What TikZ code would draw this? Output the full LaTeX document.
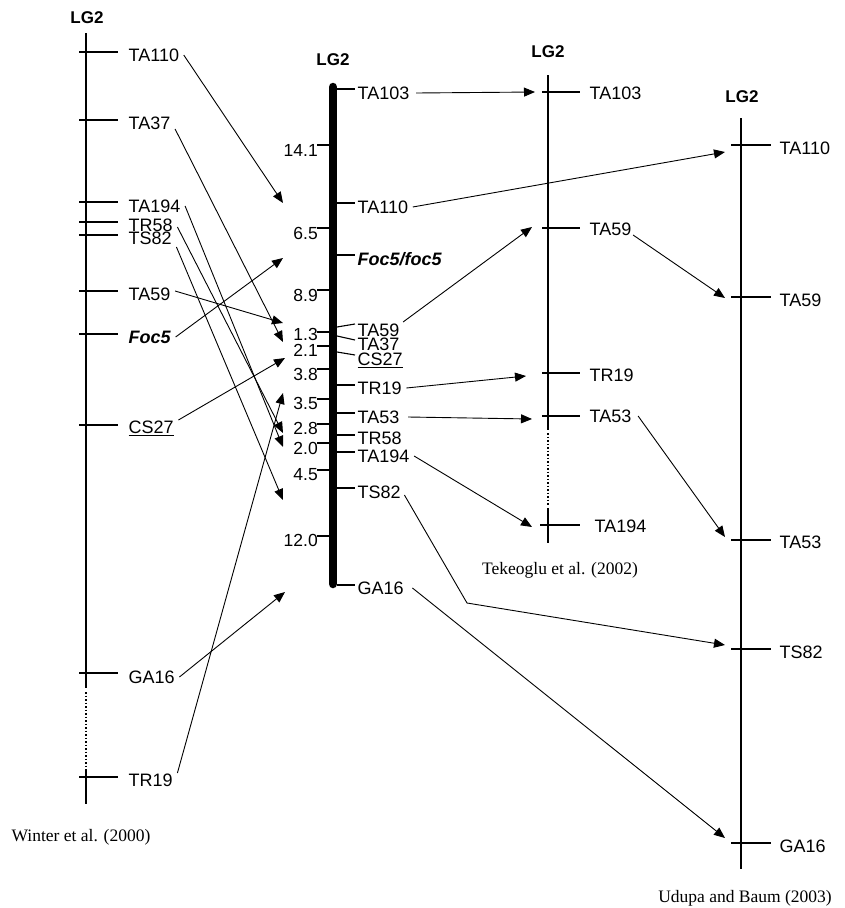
\documentclass[tikz,border=0pt]{standalone}
\usepackage{fontspec}
\setmainfont{Liberation Sans}
\newfontfamily\capfont{Liberation Serif}
\usetikzlibrary{arrows.meta}
\begin{document}
\begin{tikzpicture}[x=1pt,y=-1pt,
 mk/.style={anchor=west,inner sep=1.5pt,font=\fontsize{18}{20}\selectfont,text height=12.8pt,text depth=0pt},
 dist/.style={anchor=east,inner sep=0pt,font=\fontsize{17.5}{20}\selectfont,text height=12.5pt,text depth=0pt},
 lgtitle/.style={font=\bfseries\fontsize{17}{20}\selectfont,inner sep=0pt},
 captext/.style={font=\capfont\fontsize{17.5}{20}\selectfont,inner sep=0pt},
 mapline/.style={line width=2.6pt},
 dotline/.style={line width=2pt,dash pattern=on 1.5pt off 2pt},
 tickline/.style={line width=1.1pt},
 link/.style={line width=0.9pt,-{Triangle[length=11pt,width=9pt]}},
]
\useasboundingbox (0,0) rectangle (845,908);

% ---------- Winter et al. (2000) ----------
\node[lgtitle] (lgW) at (87,18) {LG2};
\draw[mapline] (86,33) -- (86,688);
\draw[dotline] (86,692) -- (86,767);
\draw[mapline] (86,769) -- (86,804);
\foreach \y in {52,120,202,222,235,291,334,425,673,777}
  \draw[tickline] (79,\y) -- (118,\y);
\node[mk] (wTA110) at (127,55) {TA110};
\node[mk] (wTA37) at (127,123) {TA37};
\node[mk] (wTA194) at (127,206) {TA194};
\node[mk] (wTR58) at (127,225) {TR58};
\node[mk] (wTS82) at (127,238) {TS82};
\node[mk] (wTA59) at (127,294) {TA59};
\node[mk] (wFoc) at (127,337) {\textbf{\textit{Foc5}}};
\node[mk] (wCS27) at (127,427) {\underline{CS27}};
\node[mk] (wGA16) at (127,677) {GA16};
\node[mk] (wTR19) at (127,780) {TR19};
\node[captext] (capW) at (81,837) {Winter et al. (2000)};

% ---------- central consensus map ----------
\node[lgtitle] (lgC) at (333,60) {LG2};
\draw[line width=8.5pt,line cap=round] (333,87) -- (333,584);
\foreach \y/\c/\t [count=\i] in {145/150/14.1,228/233/6.5,290/295/8.9,332/334/1.3,346/350/2.1,369/374/3.8,399/403/3.5,424/428/2.8,443/448/2.0,470/474/4.5,536/540/12.0}{
  \draw[tickline] (317,\y) -- (330,\y);
  \node[dist] (d\i) at (318,\c) {\t};
}
\foreach \y in {89,203,255,385,413,435,452,488,585}
  \draw[tickline] (337,\y) -- (355,\y);
\draw[tickline] (337,327) -- (355,324);
\draw[tickline] (337,336) -- (355,340);
\draw[tickline] (337,352) -- (355,355);
\node[mk] (cTA103) at (356,93) {TA103};
\node[mk] (cTA110) at (356,207) {TA110};
\node[mk] (cFoc) at (356,259) {\textbf{\textit{Foc5/foc5}}};
\node[mk] (cTA59) at (356,330) {TA59};
\node[mk] (cTA37) at (356,344) {TA37};
\node[mk] (cCS27) at (356,359) {\underline{CS27}};
\node[mk] (cTR19) at (356,388) {TR19};
\node[mk] (cTA53) at (356,417) {TA53};
\node[mk] (cTR58) at (356,438) {TR58};
\node[mk] (cTA194) at (356,456) {TA194};
\node[mk] (cTS82) at (356,492) {TS82};
\node[mk] (cGA16) at (356,588) {GA16};

% ---------- Tekeoglu et al. (2002) ----------
\node[lgtitle] (lgT) at (548,52) {LG2};
\draw[line width=2.5pt] (548,75) -- (548,430);
\draw[dotline] (548,433) -- (548,505);
\draw[line width=2.5pt] (548,508) -- (548,543);
\foreach \y in {92,228,373,416}
  \draw[tickline] (542,\y) -- (580,\y);
\draw[tickline] (540,525) -- (580,525);
\node[mk] (tTA103) at (588,93) {TA103};
\node[mk] (tTA59) at (588,229) {TA59};
\node[mk] (tTR19) at (588,375) {TR19};
\node[mk] (tTA53) at (588,416) {TA53};
\node[mk] (tTA194) at (593,526) {TA194};
\node[captext] (capT) at (560,570) {Tekeoglu et al. (2002)};

% ---------- Udupa and Baum (2003) ----------
\node[lgtitle] (lgU) at (742,97) {LG2};
\draw[line width=2.5pt] (741,118) -- (741,869);
\foreach \y in {145,297,540,649,843}
  \draw[tickline] (731,\y) -- (771,\y);
\node[mk] (uTA110) at (778,148) {TA110};
\node[mk] (uTA59) at (778,300) {TA59};
\node[mk] (uTA53) at (778,542) {TA53};
\node[mk] (uTS82) at (778,652) {TS82};
\node[mk] (uGA16) at (778,846) {GA16};
\node[captext] (capU) at (745,898) {Udupa and Baum (2003)};

% ---------- arrow targets ----------
\coordinate (aTA110) at (283,203);
\coordinate (aFoc) at (283,258);
\coordinate (aTA59) at (283,323);
\coordinate (aTA37) at (283,342);
\coordinate (aCS27) at (285,358);
\coordinate (aTR19) at (283,393);
\coordinate (aTR58) at (283,433);
\coordinate (aTA194) at (283,447);
\coordinate (aTS82) at (283,500);
\coordinate (aGA16) at (285,592);
\coordinate (bTA103) at (535,92);
\coordinate (bTA59) at (532,227);
\coordinate (bTR19) at (526,376);
\coordinate (bTA53) at (532,419);
\coordinate (bTA194) at (532,527);
\coordinate (uaTA110) at (725,152);
\coordinate (uaTA59) at (725,298);
\coordinate (uaTA53) at (725,537);
\coordinate (uaTS82) at (725,645);
\coordinate (uaGA16) at (725,838);
\coordinate (bend) at (467,603);

% ---------- connectors ----------
\draw[link] ([xshift=3pt]wTA110.east) -- (aTA110);
\draw[link] ([shift={(3pt,-6pt)}]wTA37.east) -- (aTA37);
\draw[link] ([xshift=3pt]wTA194.east) -- (aTA194);
\draw[link] ([shift={(3pt,-2pt)}]wTR58.east) -- (aTR58);
\draw[link] ([shift={(3pt,-9pt)}]wTS82.east) -- (aTS82);
\draw[link] ([shift={(3pt,3pt)}]wTA59.east) -- (aTA59);
\draw[link] ([xshift=3pt]wFoc.east) -- (aFoc);
\draw[link] ([shift={(3pt,7pt)}]wCS27.east) -- (aCS27);
\draw[link] ([xshift=3pt]wGA16.east) -- (aGA16);
\draw[link] ([shift={(3pt,7pt)}]wTR19.east) -- (aTR19);

\draw[link] ([xshift=5pt]cTA103.east) -- (bTA103);
\draw[link] ([shift={(2pt,8pt)}]cTA59.east) -- (bTA59);
\draw[link] ([xshift=3pt]cTR19.east) -- (bTR19);
\draw[link] ([xshift=7pt]cTA53.east) -- (bTA53);
\draw[link] ([xshift=3pt]cTA194.east) -- (bTA194);
\draw[link] ([xshift=3pt]cTA110.east) -- (uaTA110);
\draw[link] ([shift={(2pt,-3pt)}]cTS82.east) -- (bend) -- (uaTS82);
\draw[link] ([xshift=7pt]cGA16.east) -- (uaGA16);

\draw[link] ([shift={(0pt,-6pt)}]tTA59.east) -- (uaTA59);
\draw[link] ([xshift=5pt]tTA53.east) -- (uaTA53);
\end{tikzpicture}
\end{document}
